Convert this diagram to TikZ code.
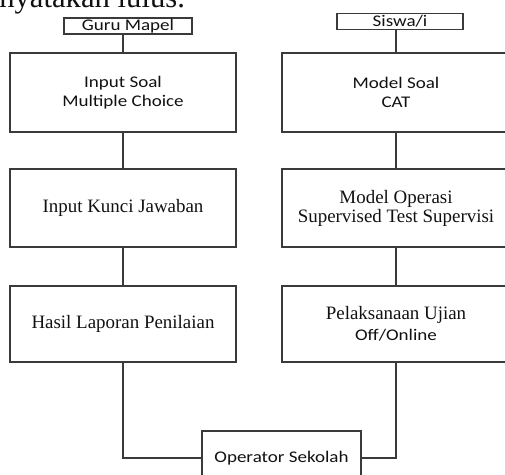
\documentclass[tikz,border=0pt]{standalone}
\usepackage{fontspec}
\setmainfont{Liberation Serif}
\newfontfamily\calibri[FakeStretch=1.17]{Carlito}
\usetikzlibrary{positioning}
\definecolor{cLine}{HTML}{3A3A3A}
\definecolor{cInk}{HTML}{111111}
\tikzset{
  block/.style={draw=cLine, line width=0.9pt, align=center, inner sep=0pt, text=cInk},
  bigbox/.style={block, minimum width=169.5pt, minimum height=58.5pt},
  rightbox/.style={bigbox, minimum width=171pt},
  tagbox/.style={block, text height=9.6pt, text depth=2.4pt},
  link/.style={draw=cLine, line width=0.9pt},
}
\newcommand{\sansbig}{\calibri\fontsize{12.2}{14}\selectfont}
\newcommand{\serifbig}{\fontsize{14.2}{14.3}\selectfont}

\begin{document}
\begin{tikzpicture}[x=0.75pt, y=-0.75pt]
  \useasboundingbox (0,0) rectangle (505,474);
  \clip (0,0) rectangle (505,474);
  % cut-off line of the page text above the chart
  \node[anchor=base west, inner sep=0pt, font=\fontsize{23}{23}\selectfont, text=cInk] (pagetxt) at (-1,8) {nyatakan lulus.};
  % actors
  \node[tagbox, minimum width=96pt, font=\sansbig] (guru) at (128,26) {Guru Mapel};
  \node[tagbox, minimum width=94.5pt, font=\sansbig] (siswa) at (400,21.5) {Siswa/i};
  % left column
  \node[bigbox, minimum height=59.25pt, font=\sansbig] (soal) at (123,92.5) {Input Soal\\Multiple Choice};
  \node[bigbox, font=\serifbig] (kunci) at (123,208) {Input Kunci Jawaban};
  \node[bigbox, minimum height=57pt, font=\serifbig] (hasil) at (123,324) {Hasil Laporan Penilaian};
  % right column
  \node[rightbox, minimum height=59.25pt, font=\sansbig] (cat) at (396,92.5) {Model Soal\\CAT};
  \node[rightbox, font=\serifbig] (operasi) at (396,208) {Model Operasi\\Supervised Test Supervisi};
  \node[rightbox, minimum height=57pt, font=\fontsize{14.2}{15.75}\selectfont] (ujian) at (396,324)
    {Pelaksanaan Ujian\\{\sansbig Off/Online}};
  % bottom
  \node[block, minimum width=119.25pt, minimum height=40.5pt, font=\sansbig] (operator) at (281.5,458) {Operator Sekolah};

  \draw[link] (soal.north |- guru.south) -- (soal.north);
  \draw[link] (soal) -- (kunci);
  \draw[link] (kunci) -- (hasil);
  \draw[link] (hasil) |- (operator);
  \draw[link] (cat.north |- siswa.south) -- (cat.north);
  \draw[link] (cat) -- (operasi);
  \draw[link] (operasi) -- (ujian);
  \draw[link] (ujian) |- (operator);
\end{tikzpicture}
\end{document}
